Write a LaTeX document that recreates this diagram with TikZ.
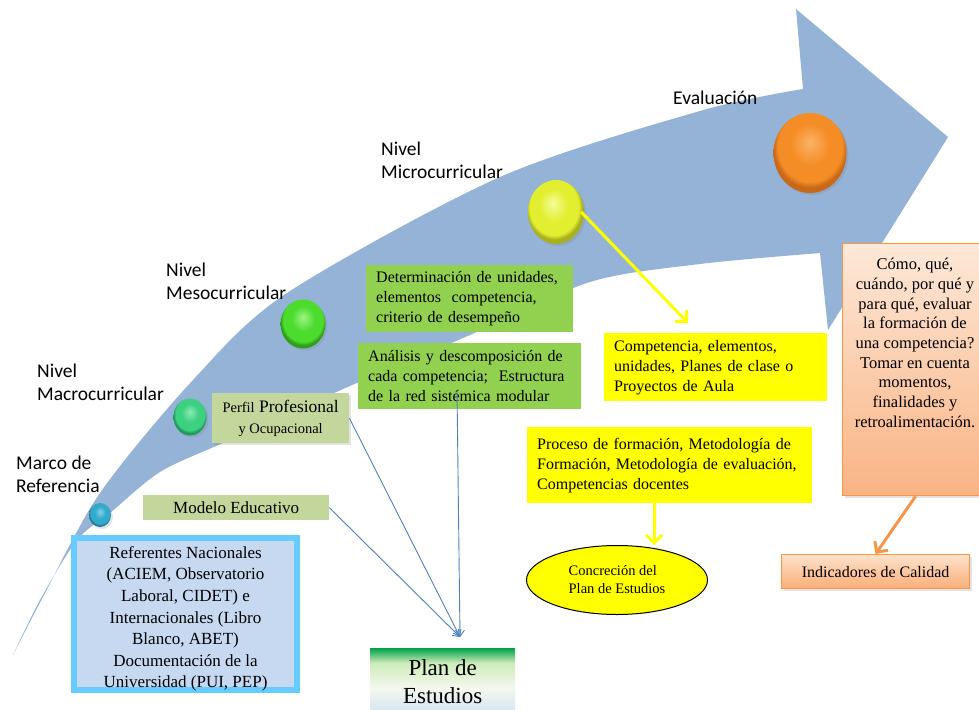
\documentclass[tikz,border=0pt]{standalone}
\usepackage{fontspec}
\setmainfont{Liberation Serif}
\newfontfamily\lblfont{Carlito}
\usetikzlibrary{arrows.meta,shapes.geometric,shadings,shadows}

\definecolor{arrowblue}{HTML}{95B3D7}
\definecolor{olivebox}{HTML}{C3D69B}
\definecolor{greenbox}{HTML}{92D050}
\definecolor{ybox}{HTML}{FFFF00}
\definecolor{refborder}{HTML}{66CCFF}
\definecolor{reffill}{HTML}{C6D9F1}
\definecolor{linkblue}{HTML}{4F81BD}
\definecolor{orangeline}{HTML}{F79646}
\definecolor{salmtop}{HTML}{FDE8D8}
\definecolor{salmbot}{HTML}{F9B383}
\definecolor{indtop}{HTML}{FEE2CC}
\definecolor{indbot}{HTML}{F9AE78}
\definecolor{ptop}{HTML}{00A24A}
\definecolor{plight}{HTML}{CDEBB9}
\definecolor{pmid}{HTML}{F4F8EE}
\definecolor{pbot}{HTML}{D3E2F2}
% ball colours: light / base / dark
\definecolor{cyL}{HTML}{7FD3EA}\definecolor{cyB}{HTML}{34AACB}\definecolor{cyD}{HTML}{1E7896}
\definecolor{teL}{HTML}{8BEBB8}\definecolor{teB}{HTML}{3CD080}\definecolor{teD}{HTML}{1F9A58}
\definecolor{grL}{HTML}{9CF584}\definecolor{grB}{HTML}{4CDC2E}\definecolor{grD}{HTML}{2F9E1A}
\definecolor{yeL}{HTML}{F6FC9A}\definecolor{yeB}{HTML}{E2EE30}\definecolor{yeD}{HTML}{A8B01E}
\definecolor{orL}{HTML}{FBB368}\definecolor{orB}{HTML}{F58D26}\definecolor{orD}{HTML}{C8691A}

\pgfdeclareverticalshading{planshade}{100bp}{color(0bp)=(pbot); color(25bp)=(pbot); color(45bp)=(pmid); color(64bp)=(plight); color(75bp)=(ptop); color(100bp)=(ptop)}
\pgfdeclareradialshading{shCy}{\pgfpoint{0bp}{7bp}}{color(0bp)=(cyL); color(13bp)=(cyB); color(22bp)=(cyB); color(25bp)=(cyD); color(50bp)=(cyD)}
\pgfdeclareradialshading{shTe}{\pgfpoint{0bp}{7bp}}{color(0bp)=(teL); color(13bp)=(teB); color(22bp)=(teB); color(25bp)=(teD); color(50bp)=(teD)}
\pgfdeclareradialshading{shGr}{\pgfpoint{0bp}{7bp}}{color(0bp)=(grL); color(13bp)=(grB); color(22bp)=(grB); color(25bp)=(grD); color(50bp)=(grD)}
\pgfdeclareradialshading{shYe}{\pgfpoint{-3bp}{7bp}}{color(0bp)=(yeL); color(13bp)=(yeB); color(22bp)=(yeB); color(25bp)=(yeD); color(50bp)=(yeD)}
\pgfdeclareradialshading{shOr}{\pgfpoint{0bp}{7bp}}{color(0bp)=(orL); color(13bp)=(orB); color(22bp)=(orB); color(25bp)=(orD); color(50bp)=(orD)}

\begin{document}
\begin{tikzpicture}[x=1pt,y=-1pt,
  lbl/.style={font=\lblfont\fontsize{19.5}{23}\selectfont, align=left, anchor=west, inner sep=0pt},
  boxnode/.style={rectangle, inner sep=0pt, anchor=north west, align=left},
  serif16/.style={font=\fontsize{16}{20}\selectfont},
  softshadow/.style={drop shadow={opacity=0.22, shadow xshift=2pt, shadow yshift=-2pt}},
  ballnode/.style={ellipse, inner sep=0pt, softshadow},
  yarrow/.style={draw=ybox, line width=3pt, -{Straight Barb[length=8pt,width=16pt]}},
  oarrow/.style={draw=orangeline, line width=3pt, -{Straight Barb[length=8pt,width=16pt]}},
  blink/.style={draw=linkblue, line width=0.9pt, -{Straight Barb[length=6pt,width=9pt]}}
]
\useasboundingbox (0,0) rectangle (979,709);
\fill[white] (0,0) rectangle (979,709);

% big curved arrow
\fill[arrowblue] plot[smooth] coordinates {(13,655) (43,597) (100,493) (193,380) (287,293) (500,177) (700,111) (803,89)}
  -- (796,9) -- (948,137) -- (828,330) -- (820,253)
  -- plot[smooth] coordinates {(820,253) (700,264) (590,282) (470,335) (350,386) (225,442) (160,472) (110,513) (77,540) (40,600) (13,655)} -- cycle;

% level labels
\node[lbl] (levEval) at (673,98) {Evaluación};
\node[lbl] (levMicro) at (381,160) {Nivel\\Microcurricular};
\node[lbl] (levMeso) at (166,281.5) {Nivel\\Mesocurricular};
\node[lbl] (levMacro) at (37,382.5) {Nivel\\Macrocurricular};
\node[lbl] (levMarco) at (16,474) {Marco de\\Referencia};

% balls
\node[ballnode, minimum width=22, minimum height=24, shading=shCy] (bCyan) at (100,515) {};
\node[ballnode, minimum width=33, minimum height=37, shading=shTe] (bTeal) at (190,417) {};
\node[ballnode, minimum width=45, minimum height=49, shading=shGr] (bGreen) at (303,324) {};
\node[ballnode, minimum width=56, minimum height=64, shading=shYe] (bYellow) at (556,212) {};
\node[ballnode, minimum width=73, minimum height=80, shading=shOr] (bOrange) at (810,153) {};

% boxes
\node[boxnode, fill=olivebox, minimum width=186, minimum height=25, align=center, font=\fontsize{17}{20}\selectfont] (modelo) at (143,495) {Modelo Educativo};
\node[boxnode, fill=olivebox, softshadow, minimum width=137, minimum height=50, align=center, font=\fontsize{17.5}{20.5}\selectfont] (perfil) at (212,393)
  {{\fontsize{14.5}{18}\selectfont Perfil} Profesional\\{\fontsize{14.5}{18}\selectfont y Ocupacional}};
\node[boxnode, fill=greenbox, minimum width=207, minimum height=67, text width=187, serif16] (deter) at (366,265)
  {Determinación de unidades,\\ elementos~~competencia,\\ criterio de desempeño};
\node[boxnode, fill=greenbox, minimum width=223, minimum height=66, text width=203, serif16] (analisis) at (358,343)
  {Análisis y descomposición de\\ cada competencia;~~Estructura\\ de la red sistémica modular};
\node[boxnode, fill=ybox, minimum width=223, minimum height=68, text width=203, serif16] (compet) at (604,333)
  {Competencia, elementos,\\ unidades, Planes de clase o\\ Proyectos de Aula};
\node[boxnode, fill=ybox, minimum width=285, minimum height=76, text width=265, serif16] (proceso) at (527,427)
  {Proceso de formación, Metodología de\\ Formación, Metodología de evaluación,\\ Competencias docentes};
\node[ellipse, draw=black, line width=1pt, fill=ybox, minimum width=181, minimum height=69, inner sep=0pt, align=left, font=\fontsize{14.5}{18}\selectfont] (concre) at (617,580)
  {Concreción del\\ Plan de Estudios};

\node[rectangle, draw=orangeline, line width=1.2pt, softshadow, top color=salmtop, bottom color=salmbot, minimum width=146, minimum height=252, anchor=north west] (salmon) at (842,243) {};
\node[inner sep=0pt, anchor=north, align=center, font=\fontsize{16.5}{19.7}\selectfont] (salmontext) at (915,258)
  {Cómo, qué,\\ cuándo, por qué y\\ para qué, evaluar\\ la formación de\\ una competencia?\\ Tomar en cuenta\\ momentos,\\ finalidades y\\ retroalimentación.};
\node[boxnode, draw=orangeline, line width=1.2pt, softshadow, top color=indtop, bottom color=indbot, minimum width=188, minimum height=34, align=center, font=\fontsize{16}{20}\selectfont] (indic) at (781,554) {Indicadores de Calidad};

\node[rectangle, draw=refborder, line width=6pt, fill=reffill, minimum width=223, minimum height=152, inner sep=0pt] (refer) at (185.5,614) {};
\node[inner sep=0pt, align=center, font=\fontsize{17}{21.6}\selectfont] (refertext) at (185.5,619)
  {Referentes Nacionales\\ (ACIEM, Observatorio\\ Laboral, CIDET) e\\ Internacionales (Libro\\ Blanco, ABET)\\ Documentación de la\\ Universidad (PUI, PEP)};

\node[boxnode, shading=planshade, minimum width=145, minimum height=66, align=center, font=\fontsize{23}{28}\selectfont] (plan) at (370,648) {Plan de\\ Estudios};

% connectors
\coordinate (yTip) at (688,323);
\draw[yarrow] ([xshift=-3pt]bYellow.east) -- (yTip);
\coordinate (pX) at (654,0);
\draw[yarrow] (pX |- proceso.south) -- (pX |- concre.north);
\draw[oarrow] (salmon.south) -- (indic.north);

\coordinate (conv) at (460,637);
\coordinate (anStart) at (457,390);
\draw[blink] (modelo.east) -- (conv);
\draw[blink] (perfil.east) -- (conv);
\draw[blink] (anStart) -- (conv);
\end{tikzpicture}
\end{document}
